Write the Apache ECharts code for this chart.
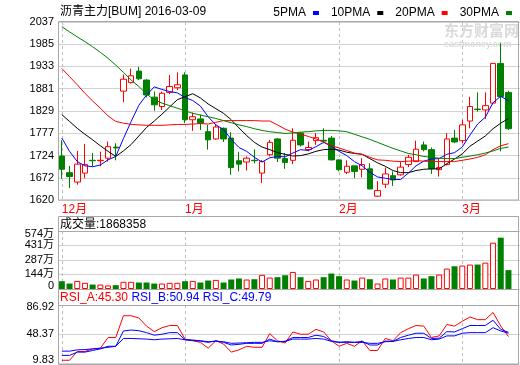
<!DOCTYPE html>
<html><head><meta charset="utf-8">
<script src="https://cdn.jsdelivr.net/npm/echarts@6/dist/echarts.min.js"></script>
<style>html,body{margin:0;padding:0;background:#fff}#c{width:520px;height:365px}</style>
</head><body><div id="c"></div>
<script>
const dates = ['2015-12-10','2015-12-11','2015-12-14','2015-12-15','2015-12-16','2015-12-17','2015-12-18','2015-12-21','2015-12-22','2015-12-23','2015-12-24','2015-12-25','2015-12-28','2015-12-29','2015-12-30','2015-12-31','2016-01-04','2016-01-05','2016-01-06','2016-01-07','2016-01-08','2016-01-11','2016-01-12','2016-01-13','2016-01-14','2016-01-15','2016-01-18','2016-01-19','2016-01-20','2016-01-21','2016-01-22','2016-01-25','2016-01-26','2016-01-27','2016-01-28','2016-01-29','2016-02-01','2016-02-02','2016-02-03','2016-02-04','2016-02-05','2016-02-15','2016-02-16','2016-02-17','2016-02-18','2016-02-19','2016-02-22','2016-02-23','2016-02-24','2016-02-25','2016-02-26','2016-02-29','2016-03-01','2016-03-02','2016-03-03','2016-03-04','2016-03-07','2016-03-08','2016-03-09'];
const openP  = [1723,1684,1662,1683,1713,1712,1718,1744,1875,1895,1922,1901,1861,1839,1872,1883,1913,1808,1810,1780,1763,1788,1765,1712,1709,1713,1683,1726,1763,1717,1713,1777,1738,1759,1760,1765,1714,1685,1700,1692,1693,1629,1657,1677,1679,1703,1710,1749,1738,1691,1703,1765,1759,1805,1833,1831,1847,1940,1872];
const closeP = [1692,1675,1704,1703,1712,1713,1745,1742,1903,1911,1904,1866,1843,1870,1886,1890,1808,1815,1800,1761,1791,1763,1696,1704,1718,1712,1710,1755,1718,1708,1760,1749,1743,1766,1758,1714,1691,1699,1687,1703,1646,1642,1681,1667,1697,1720,1739,1738,1693,1696,1763,1756,1796,1839,1832,1841,1940,1862,1787];
const lowP   = [1670,1648,1656,1671,1699,1699,1710,1713,1849,1893,1901,1860,1829,1831,1868,1878,1800,1782,1784,1738,1761,1756,1679,1687,1689,1706,1660,1722,1709,1693,1704,1745,1734,1749,1753,1713,1687,1681,1671,1673,1645,1627,1648,1653,1677,1697,1709,1734,1681,1675,1701,1753,1753,1788,1827,1810,1844,1734,1784];
const highP  = [1760,1700,1735,1751,1730,1733,1757,1753,1914,1928,1932,1903,1874,1874,1913,1919,1919,1825,1820,1796,1796,1790,1779,1732,1722,1739,1714,1761,1765,1730,1788,1779,1757,1777,1788,1770,1715,1713,1700,1718,1706,1664,1696,1687,1710,1726,1759,1757,1743,1718,1777,1784,1808,1862,1872,1872,1941,1987,1876];
const ma5  = [1765,1734,1710,1700,1698,1702,1714,1722,1764,1804,1842,1866,1885,1879,1874,1871,1860,1853,1840,1815,1796,1785,1762,1743,1734,1720,1709,1719,1722,1721,1730,1738,1736,1745,1755,1746,1734,1724,1710,1700,1685,1674,1671,1668,1668,1683,1700,1711,1716,1717,1727,1731,1744,1772,1798,1814,1848,1863,1852];
const ma10 = [1820,1804,1788,1774,1761,1747,1734,1722,1735,1750,1770,1790,1805,1821,1838,1855,1862,1869,1859,1845,1834,1823,1808,1789,1771,1755,1744,1738,1731,1727,1723,1724,1728,1734,1738,1739,1737,1732,1729,1727,1717,1707,1699,1689,1684,1684,1689,1692,1693,1693,1705,1716,1728,1746,1758,1770,1787,1800,1811];
const ma20 = [1928,1909,1890,1870,1852,1835,1817,1804,1800,1797,1796,1795,1795,1795,1796,1797,1797,1798,1799,1798,1802,1806,1806,1806,1806,1806,1805,1805,1796,1786,1779,1774,1769,1763,1756,1747,1742,1736,1730,1727,1720,1714,1713,1711,1710,1711,1712,1711,1710,1710,1710,1710,1713,1716,1720,1726,1738,1747,1752];
const ma30 = [2026,2014,2002,1991,1979,1966,1952,1936,1919,1901,1886,1868,1855,1847,1841,1835,1829,1823,1819,1815,1811,1806,1801,1796,1792,1787,1783,1780,1778,1776,1777,1779,1780,1782,1783,1783,1782,1780,1774,1768,1762,1755,1748,1741,1735,1729,1726,1722,1720,1718,1717,1717,1720,1723,1726,1730,1735,1741,1744];
const volumeWan = [77,54,80,61,44,44,35,38,71,71,64,64,54,54,61,61,77,80,64,84,90,64,94,104,94,97,140,113,117,136,169,117,80,94,117,153,127,94,84,113,97,54,104,94,113,113,143,104,127,143,202,225,232,242,242,261,458,508,186.8358];
const rsiA = [14.1,14.1,25.7,25.7,29.1,30.0,44.1,44.1,72.8,72.8,69.8,59.1,51.8,56.9,59.9,59.9,42.0,39.8,37.7,30.0,39.8,35.5,24.8,27.8,32.5,31.2,31.2,49.2,39.8,36.8,51.4,48.4,48.4,54.8,51.4,39.8,32.5,36.4,32.5,39.8,27.0,27.0,42.8,39.8,50.5,55.7,59.9,59.1,44.1,46.2,61.2,59.1,65.5,71.1,67.6,67.6,77.1,59.1,45.30];
const rsiB = [20.5,20.5,24.8,24.8,27.0,29.1,32.5,32.5,52.7,53.9,53.1,50.5,47.1,48.4,50.5,50.5,41.1,40.2,39.4,37.7,39.8,37.7,34.2,35.1,36.4,36.4,36.4,42.0,38.5,39.0,44.1,44.1,44.1,47.1,45.4,39.8,37.7,38.5,37.7,39.0,34.2,34.2,39.4,39.0,44.1,47.1,49.7,49.7,42.8,43.2,51.8,51.4,55.7,59.9,59.9,59.9,66.8,54.8,50.94];
const rsiC = [26.1,26.1,27.8,28.2,29.1,30.0,31.2,32.5,42.8,42.8,42.4,42.0,41.1,42.0,42.4,42.8,41.1,40.7,39.8,38.5,39.0,38.5,36.4,36.8,37.2,37.7,37.7,39.8,38.5,39.0,42.0,42.0,42.0,42.8,42.0,39.0,37.7,37.7,37.7,37.7,36.4,36.4,38.5,39.0,41.1,42.8,44.1,44.1,41.1,42.0,46.2,46.2,49.7,50.5,50.5,50.5,57.0,52.7,49.79];
const priceTicks = ['1620','1672','1724','1777','1829','1881','1933','1985','2037'];
const volTicks = ['0','144万','287万','431万','574万'];
const rsiTicks = ['9.83','48.37','86.92'];
const maNames = ['5PMA','10PMA','20PMA','30PMA'];
const titleText = '沥青主力[BUM] 2016-03-09';

const FONT = '"Liberation Sans","Noto Sans CJK SC",sans-serif';
const RED = '#ff0000', GREEN = '#008000', BLUE = '#0000ff';
const N = dates.length;
const isMonthStart = i => i === 0 || (i < N && dates[i].slice(5,7) !== dates[i-1].slice(5,7));
const monthLabel = d => parseInt(d.slice(5,7),10) + '月';
const up = i => closeP[i] > openP[i];

const chart = echarts.init(document.getElementById('c'), null, {renderer:'canvas'});

function xAxisCfg(gi, showLabel){
  return {
    type:'category', gridIndex: gi, data: dates, boundaryGap: true, max: N,
    axisLine:{show:false}, axisTick:{show:false, alignWithLabel:true, interval:(i)=>isMonthStart(i)},
    axisLabel:{show: showLabel, interval:(i)=>isMonthStart(i), formatter:(v)=>monthLabel(v),
      color: RED, fontSize: 12, fontFamily: FONT, align:'left', margin: 4},
    splitLine:{show:true, alignWithLabel:true, interval:(i)=>isMonthStart(i), lineStyle:{color:'#bdbdbd', type:[3,3], width:1}}
  };
}
const labelBase = {color:'#000', fontSize:11, fontFamily: FONT, margin:4};

const option = {
  animation:false,
  backgroundColor:'#fff',
  title:[
    {text:titleText, left:60, top:6, padding:0, textStyle:{fontSize:12, fontWeight:'normal', color:'#000', fontFamily:FONT}},
    {text:'成交量:' + Math.round(volumeWan[N-1]*10000), left:60, top:219, padding:0, textStyle:{fontSize:12, fontWeight:'normal', color:'#000', fontFamily:FONT}},
    {text:'{a|RSI_A:' + rsiA[N-1].toFixed(2) + '} {b|RSI_B:' + rsiB[N-1].toFixed(2) + ' RSI_C:' + rsiC[N-1].toFixed(2) + '}',
      left:60, top:291, padding:0,
      textStyle:{fontSize:12, fontWeight:'normal', fontFamily:FONT, rich:{
        a:{color:RED, fontSize:12, fontFamily:FONT, lineHeight:14}, b:{color:BLUE, fontSize:12, fontFamily:FONT, lineHeight:14}}}}
  ],
  legend:{data:maNames, right:8, top:7, padding:0, align:'right', icon:'rect', itemWidth:6, itemHeight:4, itemGap:12,
    selectedMode:false, textStyle:{fontSize:12, color:'#000', fontFamily:FONT, padding:[0,2,0,0]}},
  grid:[
    {left:58, right:0, top:22, height:178},
    {left:58, right:0, top:231, height:58},
    {left:58, right:0, top:305, height:60}
  ],
  xAxis:[xAxisCfg(0,true), xAxisCfg(1,false), xAxisCfg(2,false)],
  yAxis:[
    {type:'value', gridIndex:0, min:1620, max:2037, axisLine:{show:false},
      axisTick:{show:false, customValues: priceTicks.map(Number)},
      axisLabel:Object.assign({customValues: priceTicks.map(Number), formatter:(v)=>{const i=priceTicks.map(Number).indexOf(v); return i>=0?priceTicks[i]:String(v);}}, labelBase),
      splitLine:{show:true, lineStyle:{color:'#d2d2d2', width:1}}},
    {type:'value', gridIndex:1, min:0, max:574, axisLine:{show:false},
      axisTick:{show:false, customValues: [0,144,287,431,574]},
      axisLabel:Object.assign({customValues:[0,144,287,431,574], formatter:(v)=>{
          const i=[0,144,287,431,574].indexOf(v); const t=volTicks[i];
          if(i===0) return '{lo|'+t+'}'; if(i===4) return '{hi|'+t+'}'; return t;},
        rich:{lo:{padding:[0,0,7,0], fontSize:11, fontFamily:FONT, color:'#000'}, hi:{padding:[5,0,0,0], fontSize:11, fontFamily:FONT, color:'#000'}}}, labelBase),
      splitLine:{show:true, lineStyle:{color:'#d2d2d2', width:1}}},
    {type:'value', gridIndex:2, min:9.83, max:86.92, axisLine:{show:false},
      axisTick:{show:false, customValues: rsiTicks.map(Number)},
      axisLabel:Object.assign({customValues: rsiTicks.map(Number), formatter:(v)=>{
          const i=rsiTicks.map(Number).indexOf(v); const t=rsiTicks[i];
          if(i===0) return '{lo|'+t+'}'; if(i===2) return '{hi|'+t+'}'; return t;},
        rich:{lo:{padding:[0,0,8,0], fontSize:11, fontFamily:FONT, color:'#000'}, hi:{padding:[4,0,0,0], fontSize:11, fontFamily:FONT, color:'#000'}}}, labelBase),
      splitLine:{show:true, lineStyle:{color:'#d2d2d2', width:1}}}
  ],
  series:[
    {type:'candlestick', name:'K', xAxisIndex:0, yAxisIndex:0, barWidth:6,
      data: dates.map((d,i)=>[openP[i], closeP[i], lowP[i], highP[i]]),
      itemStyle:{color:'#ffffff', color0:GREEN, borderColor:RED, borderColor0:GREEN, borderWidth:1}},
    {type:'line', name:maNames[0], xAxisIndex:0, yAxisIndex:0, data:ma5, symbol:'none', color:BLUE, lineStyle:{width:1, color:BLUE}},
    {type:'line', name:maNames[1], xAxisIndex:0, yAxisIndex:0, data:ma10, symbol:'none', color:'#000000', lineStyle:{width:1, color:'#000'}},
    {type:'line', name:maNames[2], xAxisIndex:0, yAxisIndex:0, data:ma20, symbol:'none', color:RED, lineStyle:{width:1, color:RED}},
    {type:'line', name:maNames[3], xAxisIndex:0, yAxisIndex:0, data:ma30, symbol:'none', color:GREEN, lineStyle:{width:1, color:GREEN}},
    {type:'bar', name:'VOL', xAxisIndex:1, yAxisIndex:1, barWidth:6,
      data: volumeWan.map((v,i)=>({value:v, itemStyle: up(i) ? {color:'#ffffff', borderColor:RED, borderWidth:1} : {color:GREEN, borderColor:GREEN, borderWidth:0}}))},
    {type:'line', name:'RSI_A', xAxisIndex:2, yAxisIndex:2, data:rsiA, symbol:'none', lineStyle:{width:1, color:RED}, color:RED},
    {type:'line', name:'RSI_B', xAxisIndex:2, yAxisIndex:2, data:rsiB, symbol:'none', lineStyle:{width:1, color:BLUE}, color:BLUE},
    {type:'line', name:'RSI_C', xAxisIndex:2, yAxisIndex:2, data:rsiC, symbol:'none', lineStyle:{width:1, color:BLUE}, color:BLUE}
  ],
  graphic:[
    {type:'rect', z:50, silent:true, shape:{x:58.5, y:21.5, width:460, height:178.5}, style:{fill:'none', stroke:'#a8a8a8', lineWidth:1}},
    {type:'rect', z:50, silent:true, shape:{x:58.5, y:216.5, width:460, height:73}, style:{fill:'none', stroke:'#a8a8a8', lineWidth:1}},
    {type:'line', z:50, silent:true, shape:{x1:58.5, y1:231.5, x2:518.5, y2:231.5}, style:{stroke:'#a8a8a8', lineWidth:1}},
    {type:'rect', z:50, silent:true, shape:{x:58.5, y:289.5, width:460, height:75}, style:{fill:'none', stroke:'#a8a8a8', lineWidth:1}},
    {type:'line', z:50, silent:true, shape:{x1:58.5, y1:305.5, x2:518.5, y2:305.5}, style:{stroke:'#a8a8a8', lineWidth:1}},
    {type:'text', z:1, silent:true, style:{x:444, y:23, text:'东方财富网', fill:'#dadada', fontSize:15, fontWeight:'bold', fontFamily:'"Noto Sans CJK SC",sans-serif'}},
    {type:'text', z:1, silent:true, style:{x:444, y:40, text:'eastmoney.com', fill:'#dadada', fontSize:9, fontWeight:'bold', fontFamily:FONT}}
  ]
};
chart.setOption(option);
</script>
</body></html>
